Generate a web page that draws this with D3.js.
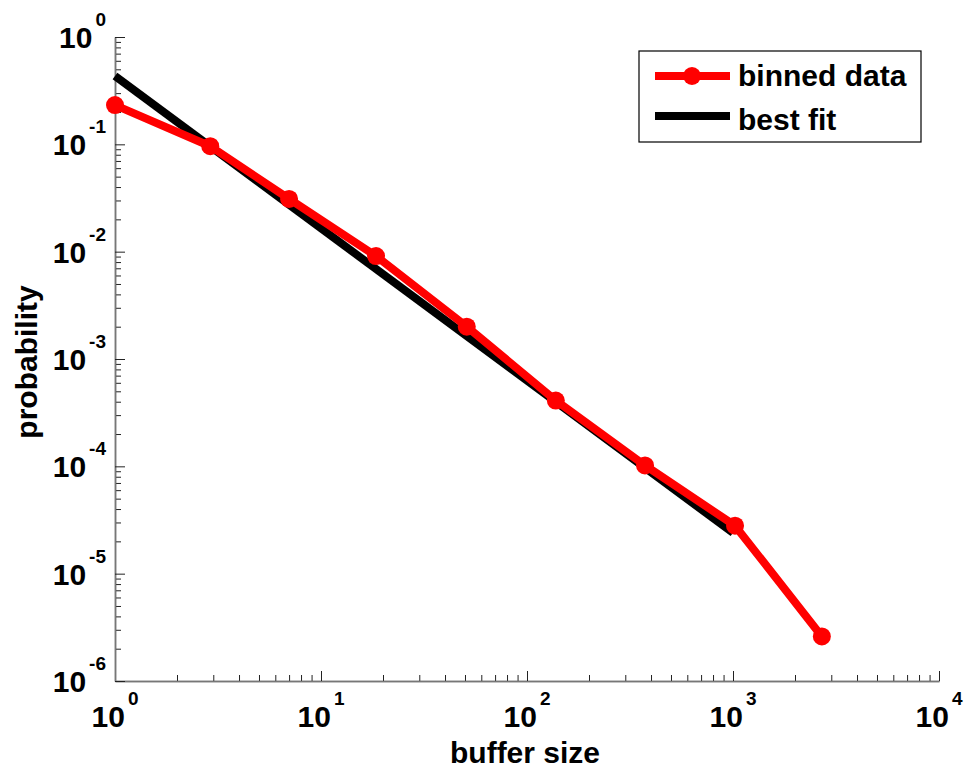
<!DOCTYPE html>
<html>
<head>
<meta charset="utf-8">
<script src="https://cdn.jsdelivr.net/npm/d3@7"></script>
<style>
  body { margin: 0; background: #fff; }
  text { font-family: "Liberation Sans", Arial, sans-serif; font-weight: bold; fill: #000; }
</style>
</head>
<body>
<div id="chart"></div>
<script>
// binned data
const bufferSize = [1, 2.9, 7, 18.5, 51, 138, 374, 1023, 2700];
const probability = [0.232, 0.096, 0.031, 0.0091, 0.0020, 0.00041, 0.000102, 2.8e-5, 2.6e-6];
// best fit line end points
const fitX = [1, 1000];
const fitY = [0.433, 2.4e-5];
// axis ticks
const xMajor = [1, 10, 100, 1000, 10000];
const yMajor = [1, 1e-1, 1e-2, 1e-3, 1e-4, 1e-5, 1e-6];
const legendLabels = ['binned data', 'best fit'];

const W = 967, H = 772;
const margin = {top: 37, right: 28, bottom: 91, left: 115};
const width = W - margin.left - margin.right;
const height = H - margin.top - margin.bottom;

const x = d3.scaleLog().domain([1, 1e4]).range([0, width]);
const y = d3.scaleLog().domain([1e-6, 1]).range([height, 0]);

function minorTicks(majors) {
  const out = [];
  const sorted = majors.slice().sort((a, b) => a - b);
  for (let i = 0; i < sorted.length - 1; i++) {
    for (let k = 2; k <= 9; k++) out.push(sorted[i] * k);
  }
  return out;
}

const svg = d3.select('#chart').append('svg')
  .attr('width', W)
  .attr('height', H);

const g = svg.append('g')
  .attr('transform', 'translate(' + margin.left + ',' + margin.top + ')');

// axes: ticks point inward
function styleAxis(a) {
  a.select('.domain').attr('stroke', '#777').attr('stroke-width', 1.5);
  a.selectAll('.tick line').attr('stroke', '#222').attr('stroke-width', 1);
  a.selectAll('.tick text').remove();
}

g.append('g')
  .attr('transform', 'translate(0,' + height + ')')
  .call(d3.axisBottom(x).tickValues(minorTicks(xMajor)).tickSizeInner(-6).tickSizeOuter(0))
  .call(styleAxis);
g.append('g')
  .attr('transform', 'translate(0,' + height + ')')
  .call(d3.axisBottom(x).tickValues(xMajor).tickSizeInner(-10).tickSizeOuter(0))
  .call(styleAxis);

g.append('g')
  .call(d3.axisLeft(y).tickValues(minorTicks(yMajor)).tickSizeInner(-6).tickSizeOuter(0))
  .call(styleAxis);
g.append('g')
  .call(d3.axisLeft(y).tickValues(yMajor).tickSizeInner(-10).tickSizeOuter(0))
  .call(styleAxis);

// tick labels as 10^n
function powLabel(t, v) {
  t.append('tspan').text('10');
  t.append('tspan').attr('dx', 3).attr('dy', -22).style('font-size', '19px')
    .text(Math.round(Math.log10(v)));
}

xMajor.forEach(v => {
  const t = g.append('text')
    .attr('x', x(v))
    .attr('y', height + 46)
    .attr('text-anchor', 'middle')
    .style('font-size', '30px');
  powLabel(t, v);
});

yMajor.forEach(v => {
  const t = g.append('text')
    .attr('x', -9)
    .attr('y', y(v) + 11)
    .attr('text-anchor', 'end')
    .style('font-size', '30px');
  powLabel(t, v);
});

// axis titles
svg.append('text')
  .attr('x', margin.left + width / 2 - 2)
  .attr('y', 763)
  .attr('text-anchor', 'middle')
  .style('font-size', '30px')
  .text('buffer size');

svg.append('text')
  .attr('transform', 'translate(37,' + 362 + ') rotate(-90)')
  .attr('text-anchor', 'middle')
  .style('font-size', '30px')
  .text('probability');

// best fit
const line = d3.line().x(d => x(d[0])).y(d => y(d[1]));
g.append('path')
  .datum(d3.zip(fitX, fitY))
  .attr('d', line)
  .attr('fill', 'none')
  .attr('stroke', '#000')
  .attr('stroke-width', 8);

// binned data
g.append('path')
  .datum(d3.zip(bufferSize, probability))
  .attr('d', line)
  .attr('fill', 'none')
  .attr('stroke', '#ff0000')
  .attr('stroke-width', 8)
  .attr('stroke-linejoin', 'round');

g.selectAll('circle.pt')
  .data(d3.zip(bufferSize, probability))
  .enter().append('circle')
  .attr('class', 'pt')
  .attr('cx', d => x(d[0]))
  .attr('cy', d => y(d[1]))
  .attr('r', 9)
  .attr('fill', '#ff0000');

// legend
const lg = svg.append('g').attr('transform', 'translate(639,51)');
lg.append('rect')
  .attr('width', 282)
  .attr('height', 91)
  .attr('fill', '#fff')
  .attr('stroke', '#000')
  .attr('stroke-width', 1.2);
lg.append('line')
  .attr('x1', 16).attr('x2', 91).attr('y1', 25).attr('y2', 25)
  .attr('stroke', '#ff0000').attr('stroke-width', 8);
lg.append('circle')
  .attr('cx', 53).attr('cy', 25).attr('r', 9).attr('fill', '#ff0000');
lg.append('line')
  .attr('x1', 16).attr('x2', 91).attr('y1', 65).attr('y2', 65)
  .attr('stroke', '#000').attr('stroke-width', 8);
lg.selectAll('text.lab')
  .data(legendLabels)
  .enter().append('text')
  .attr('class', 'lab')
  .attr('x', 99)
  .attr('y', (d, i) => 35 + i * 44)
  .style('font-size', '30px')
  .text(d => d);
</script>
</body>
</html>
